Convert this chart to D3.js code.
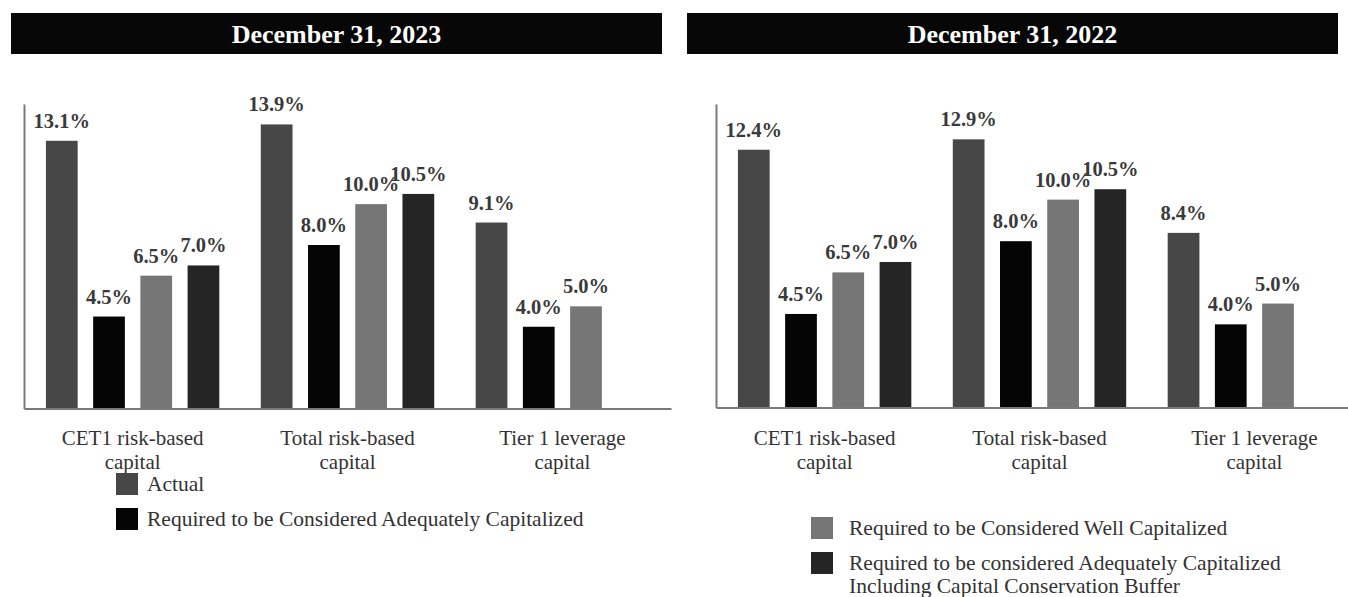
<!DOCTYPE html>
<html>
<head>
    <meta charset="utf-8">
    <script src="https://d3js.org/d3.v7.min.js"></script>
    <style>
        body { margin: 0; background: #fff; }
    </style>
</head>
<body>
    <div id="chart"></div>

    <script>
        // data
        const categories = ["CET1 risk-based capital", "Total risk-based capital", "Tier 1 leverage capital"];
        const categoryLines = [["CET1 risk-based", "capital"], ["Total risk-based", "capital"], ["Tier 1 leverage", "capital"]];
        const seriesNames = [
            "Actual",
            "Required to be Considered Adequately Capitalized",
            "Required to be Considered Well Capitalized",
            "Required to be considered Adequately Capitalized Including Capital Conservation Buffer"
        ];
        const seriesColors = ["#474747", "#050505", "#767676", "#252525"];

        const actual2023 = [13.1, 13.9, 9.1];
        const adequate2023 = [4.5, 8.0, 4.0];
        const well2023 = [6.5, 10.0, 5.0];
        const buffer2023 = [7.0, 10.5, null];

        const actual2022 = [12.4, 12.9, 8.4];
        const adequate2022 = [4.5, 8.0, 4.0];
        const well2022 = [6.5, 10.0, 5.0];
        const buffer2022 = [7.0, 10.5, null];

        const titles = ["December 31, 2023", "December 31, 2022"];
        const yMax = [14.9, 14.6];

        const width = 1348;
        const height = 597;
        const serif = "'Liberation Serif', 'Times New Roman', Times, serif";

        const svg = d3.select("#chart")
            .append("svg")
            .attr("width", width)
            .attr("height", height)
            .attr("font-family", serif)
            .style("font-family", serif);

        const panels = [
            {
                title: titles[0], yMax: yMax[0], offset: 0, baseline: 408.5, headerX: 11,
                series: [actual2023, adequate2023, well2023, buffer2023],
                legend: [0, 1], legendY: 473, legendX: 116, legendTextX: 147,
                legendLines: [["Actual"], ["Required to be Considered Adequately Capitalized"]]
            },
            {
                title: titles[1], yMax: yMax[1], offset: 692, baseline: 407.5, headerX: 687,
                series: [actual2022, adequate2022, well2022, buffer2022],
                legend: [2, 3], legendY: 517, legendX: 811, legendTextX: 849,
                legendLines: [["Required to be Considered Well Capitalized"],
                              ["Required to be considered Adequately Capitalized", "Including Capital Conservation Buffer"]]
            }
        ];

        panels.forEach(p => {
            // header bar
            svg.append("rect")
                .attr("x", p.headerX).attr("y", 13)
                .attr("width", 651).attr("height", 41)
                .attr("fill", "#070707");
            svg.append("text")
                .attr("x", p.headerX + 325.5).attr("y", 43)
                .attr("text-anchor", "middle")
                .attr("fill", "#fff")
                .attr("font-weight", "bold")
                .attr("font-size", 26)
                .text(p.title);

            const g = svg.append("g").attr("transform", `translate(${p.offset},0)`);

            // scales
            const x0 = d3.scaleBand()
                .domain(categories)
                .range([24, 671])
                .paddingInner(0.193)
                .paddingOuter(0.102);

            const x1 = d3.scaleBand()
                .domain(d3.range(seriesNames.length))
                .range([0, x0.bandwidth()])
                .paddingInner(0.328);

            const y = d3.scaleLinear()
                .domain([0, p.yMax])
                .range([p.baseline, 104]);

            // bars
            const rows = categories.map((c, i) => ({
                category: c,
                values: p.series.map((s, k) => ({k: k, v: s[i]})).filter(d => d.v != null)
            }));

            const groups = g.selectAll("g.group")
                .data(rows)
                .enter()
                .append("g")
                .attr("class", "group")
                .attr("transform", d => `translate(${x0(d.category)},0)`);

            groups.selectAll("rect")
                .data(d => d.values)
                .enter()
                .append("rect")
                .attr("x", d => x1(d.k))
                .attr("y", d => y(d.v))
                .attr("width", x1.bandwidth())
                .attr("height", d => y(0) - y(d.v))
                .attr("fill", d => seriesColors[d.k]);

            groups.selectAll("text")
                .data(d => d.values)
                .enter()
                .append("text")
                .attr("x", d => x1(d.k) + x1.bandwidth() / 2)
                .attr("y", d => y(d.v) - 13)
                .attr("text-anchor", "middle")
                .attr("font-weight", "bold")
                .attr("font-size", 20.5)
                .attr("fill", "#3a3a3a")
                .text(d => d.v.toFixed(1) + "%");

            // axes
            g.append("g")
                .attr("transform", `translate(0,${p.baseline})`)
                .call(d3.axisBottom(x0).tickSize(0).tickFormat(""))
                .call(a => a.select(".domain").attr("stroke", "#7a7a7a").attr("stroke-width", 2));

            g.append("g")
                .attr("transform", "translate(24,0)")
                .call(d3.axisLeft(y).tickSize(0).tickValues([]))
                .call(a => a.select(".domain").attr("stroke", "#7a7a7a").attr("stroke-width", 2));

            // category labels
            categories.forEach((c, i) => {
                const cx = x0(c) + x0.bandwidth() / 2;
                const t = g.append("text")
                    .attr("x", cx)
                    .attr("y", 445)
                    .attr("text-anchor", "middle")
                    .attr("font-size", 21)
                    .attr("fill", "#333");
                categoryLines[i].forEach((line, j) => {
                    t.append("tspan")
                        .attr("x", cx)
                        .attr("dy", j === 0 ? 0 : 24)
                        .text(line);
                });
            });

            // legend
            let ly = p.legendY;
            p.legend.forEach((k, j) => {
                svg.append("rect")
                    .attr("x", p.legendX).attr("y", ly)
                    .attr("width", 22).attr("height", 22)
                    .attr("fill", seriesColors[k]);
                const t = svg.append("text")
                    .attr("x", p.legendTextX)
                    .attr("y", ly + 18)
                    .attr("font-size", 21.5)
                    .attr("fill", "#333");
                p.legendLines[j].forEach((line, m) => {
                    t.append("tspan")
                        .attr("x", p.legendTextX)
                        .attr("dy", m === 0 ? 0 : 23)
                        .text(line);
                });
                ly += 35;
            });
        });
    </script>
</body>
</html>
